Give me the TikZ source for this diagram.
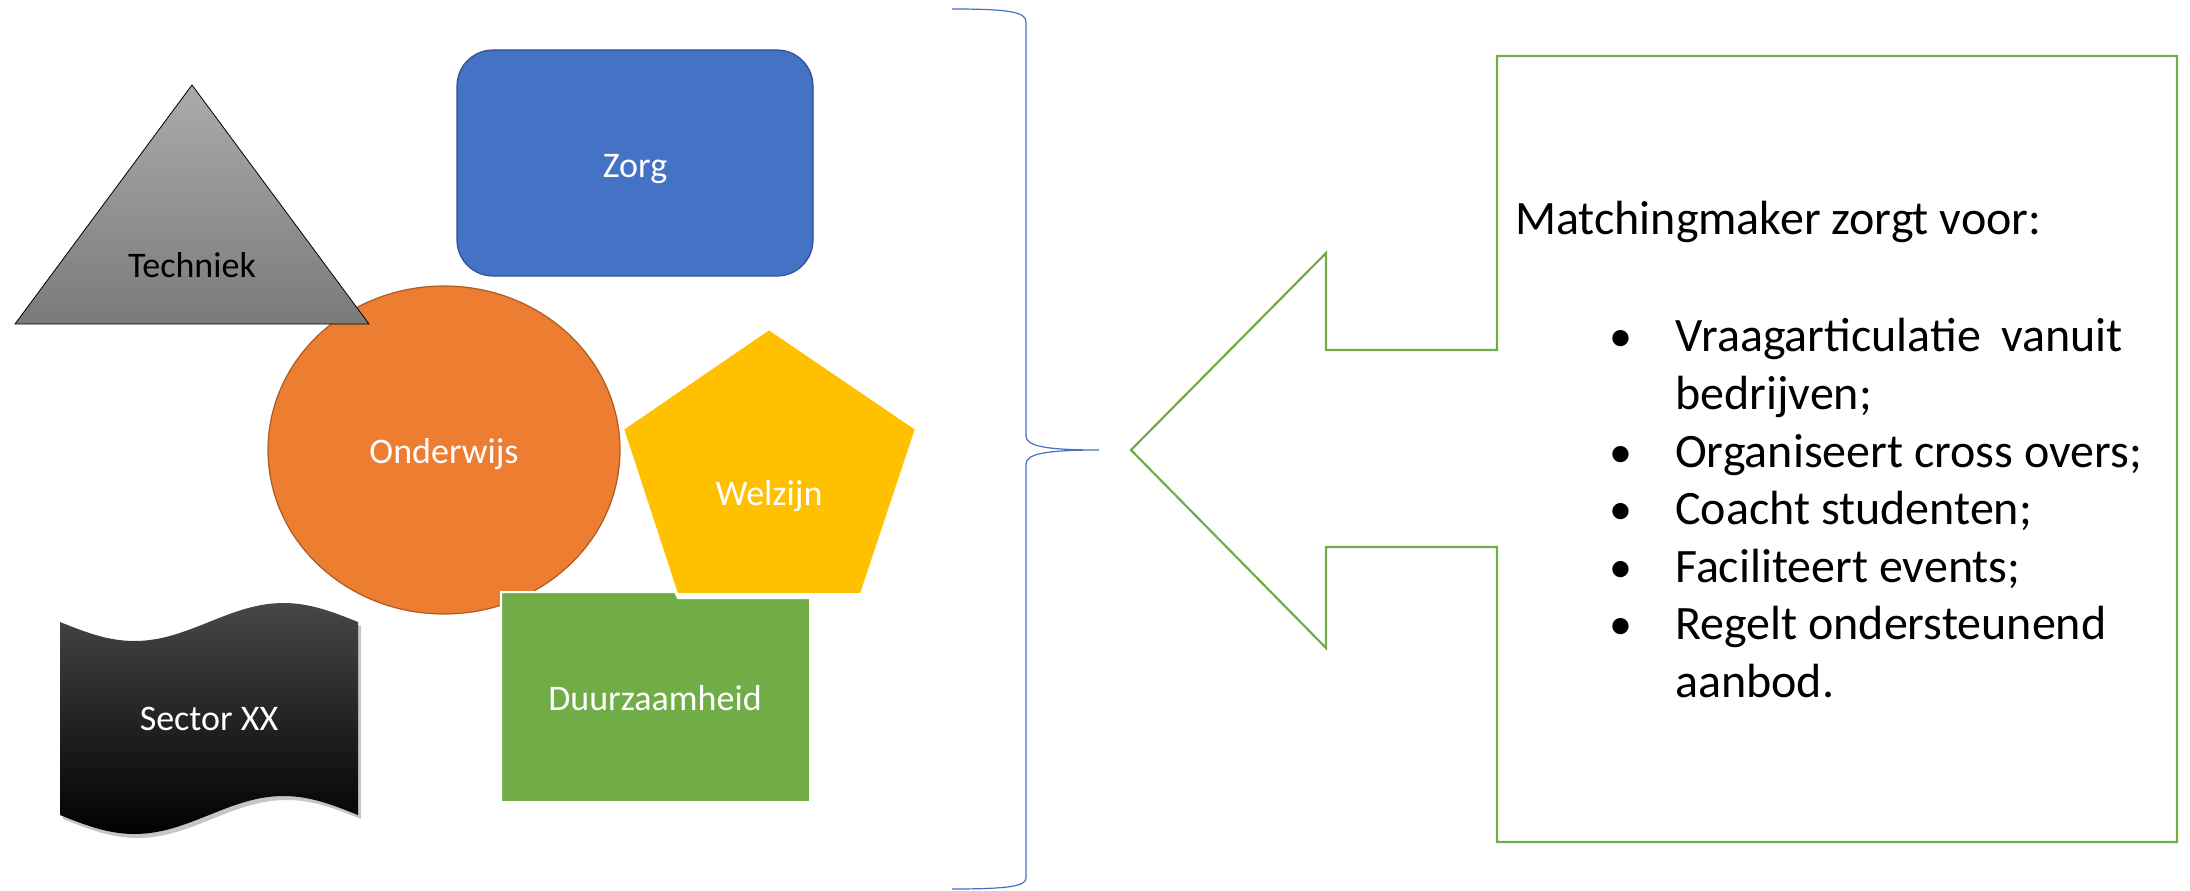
\documentclass[tikz,border=0pt]{standalone}
\usepackage{fontspec}
\setmainfont{Carlito}
\usetikzlibrary{shadows, positioning}

\definecolor{zorgblue}{HTML}{4472C4}
\definecolor{zorgedge}{HTML}{2F528F}
\definecolor{onderorange}{HTML}{ED7D31}
\definecolor{onderedge}{HTML}{AE5A21}
\definecolor{welyellow}{HTML}{FFC000}
\definecolor{duurgreen}{HTML}{70AD47}

\begin{document}
\begin{tikzpicture}[x=1pt, y=-1pt]
	% Define styles
	\tikzset{
		lbl/.style={font=\fontsize{36}{43}\selectfont, text=white, inner sep=0pt, anchor=base},
		whiteline/.style={draw=white, line width=2pt},
		info/.style={font=\fontsize{48}{58}\selectfont, anchor=base west, inner sep=0pt},
		dot/.style={font=\fontsize{46}{55}\selectfont, anchor=base, inner sep=0pt}
	}
	\useasboundingbox (0,0) rectangle (2190,891);
	
	% Shapes
	\draw[rounded corners=36pt, draw=zorgedge, line width=1.2pt, fill=zorgblue] (457,50) rectangle (813,276);
	\draw[draw=onderedge, line width=1.2pt, fill=onderorange] (444,450) ellipse [x radius=176pt, y radius=164pt];
	\draw[top color=black!33, bottom color=black!52, draw=black, line width=0.8pt] (192,85) -- (369,324) -- (15,324) -- cycle;
	\draw[whiteline, fill=welyellow] (769,329) -- (916,429) -- (861,594) -- (677,594) -- (623,429) -- cycle;
	\draw[whiteline, fill=duurgreen] (501,592) -- (675,592) -- (678,598) -- (810,598) -- (810,802) -- (501,802) -- cycle;
	\path[top color=black!72, middle color=black, bottom color=black, drop shadow={shadow xshift=3pt, shadow yshift=-4pt, opacity=0.45}]
		(60,622) sin (134.5,641) cos (209,622) sin (283.5,603) cos (358,622)
		-- (358,815) sin (283.5,796) cos (209,815) sin (134.5,834) cos (60,815) -- cycle;
	
	% Labels
	\node[lbl, text=black] (techniek) at (192,277) {Techniek};
	\node[lbl] (zorg) at (635,177) {Zorg};
	\node[lbl] (onderwijs) at (444,463) {Onderwijs};
	\node[lbl] (welzijn) at (769,505) {Welzijn};
	\node[lbl] (duurzaam) at (655,710) {Duurzaamheid};
	\node[lbl] (sector) at (209,730) {Sector XX};
	
	% Brace
	\draw[zorgblue, line width=1.2pt] (952,9) .. controls (1010,9) and (1026,12) .. (1026,22) -- (1026,436)
		.. controls (1026,446) and (1045,450) .. (1099,450)
		.. controls (1045,450) and (1026,454) .. (1026,464) -- (1026,878)
		.. controls (1026,886) and (1010,889) .. (952,889);
	
	% Callout
	\draw[duurgreen, line width=2.2pt] (1131,450) -- (1326,253) -- (1326,350) -- (1497,350) -- (1497,56) -- (2177,56)
		-- (2177,842) -- (1497,842) -- (1497,547) -- (1326,547) -- (1326,648) -- cycle;
	
	% Text
	\node[info] (kop) at (1515,234) {Matchingmaker zorgt voor:};
	\node[dot] (b1) at (1621,351) {\textbullet};
	\node[dot] (b2) at (1621,467) {\textbullet};
	\node[dot] (b3) at (1621,524) {\textbullet};
	\node[dot] (b4) at (1621,582) {\textbullet};
	\node[dot] (b5) at (1621,639) {\textbullet};
	\node[info] (i1) at (1675,351) {Vraagarticulatie\hspace{0.2em} vanuit};
	\node[info] (i1b) at (1675,409) {bedrijven;};
	\node[info] (i2) at (1675,467) {Organiseert cross overs;};
	\node[info] (i3) at (1675,524) {Coacht studenten;};
	\node[info] (i4) at (1675,582) {Faciliteert events;};
	\node[info] (i5) at (1675,639) {Regelt ondersteunend};
	\node[info] (i5b) at (1675,697) {aanbod.};
\end{tikzpicture}
\end{document}
